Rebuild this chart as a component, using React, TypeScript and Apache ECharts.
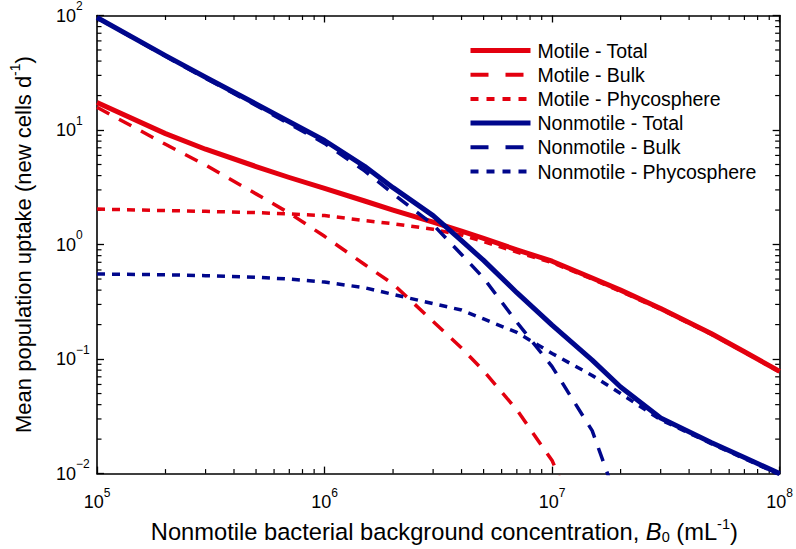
import React, { useEffect, useRef } from "react";
import * as echarts from "echarts";

// Nonmotile bacterial background concentration B0 (mL^-1)
const B0 = [1e5, 2e5, 3e5, 5e5, 7e5, 1e6, 1.5e6, 2e6, 3e6, 4e6, 5e6, 7e6, 1e7, 1.5e7, 2e7, 3e7, 5e7, 7e7, 1e8];

// Mean population uptake (new cells d^-1)
const motileTotal = [17.4, 9.3, 6.8, 4.8, 3.85, 3.1, 2.4, 2.0, 1.57, 1.31, 1.13, 0.9, 0.715, 0.51, 0.4, 0.277, 0.167, 0.116, 0.078];
const motileBulk = [15.8, 7.5, 4.94, 2.77, 1.88, 1.18, 0.67, 0.452, 0.213, 0.125, 0.079, 0.036, 0.013, 0.002, null, null, null, null, null];
const motilePhyco = [2.04, 1.98, 1.95, 1.9, 1.85, 1.79, 1.62, 1.52, 1.36, 1.21, 1.06, 0.86, 0.695, 0.5, 0.39, 0.272, 0.165, 0.115, 0.077];
const nonmotileTotal = [96, 44.6, 28.9, 16.9, 11.8, 8.1, 4.82, 3.14, 1.79, 1.08, 0.727, 0.38, 0.198, 0.098, 0.057, 0.0306, 0.0187, 0.0138, 0.01];
const nonmotileBulk = [95.4, 44.0, 28.3, 16.4, 11.3, 7.65, 4.4, 2.78, 1.49, 0.82, 0.51, 0.21, 0.086, 0.0237, 0.0048, null, null, null, null];
const nonmotilePhyco = [0.553, 0.545, 0.535, 0.519, 0.499, 0.47, 0.42, 0.367, 0.305, 0.268, 0.224, 0.171, 0.112, 0.072, 0.05, 0.0295, 0.0183, 0.0135, 0.0098];

const seriesNames = [
  "Motile - Total",
  "Motile - Bulk",
  "Motile - Phycosphere",
  "Nonmotile - Total",
  "Nonmotile - Bulk",
  "Nonmotile - Phycosphere",
];

// axis ranges and minor-tick decades
const X_MIN = 1e5;
const X_MAX = 1e8;
const Y_MIN = 1e-2;
const Y_MAX = 1e2;
const xDecades = [1e5, 1e6, 1e7];
const yDecades = [1e-2, 1e-1, 1, 10];
const minorMultipliers = [2, 3, 4, 5, 6, 7, 8, 9];

const RED = "#e3000f";
const BLUE = "#00078c";
const FONT = "'Liberation Sans', Arial, Helvetica, sans-serif";

const pair = (ys: (number | null)[]) => B0.map((x, i) => [x, ys[i]]);

const expLabel = (value: number) => {
  const e = Math.round(Math.log10(value));
  const s = e < 0 ? "\u2212" + String(-e) : String(e);
  return `{b|10}{s|${s}}`;
};

const tickRich = {
  b: { fontSize: 18, color: "#000", fontFamily: FONT },
  s: { fontSize: 12, color: "#000", fontFamily: FONT, padding: [0, 0, 19, 0] },
};

const App: React.FC = () => {
  const ref = useRef<HTMLDivElement>(null);

  useEffect(() => {
    if (!ref.current) return;
    const chart = echarts.init(ref.current, undefined, { renderer: "svg" });

    const xMinor = xDecades.flatMap((d) => minorMultipliers.map((m) => m * d));
    const yMinor = yDecades.flatMap((d) => minorMultipliers.map((m) => m * d));

    const lineSeries = [
      { name: seriesNames[0], data: pair(motileTotal), color: RED, width: 5, type: "solid" as any },
      { name: seriesNames[1], data: pair(motileBulk), color: RED, width: 3.5, type: [14, 11] },
      { name: seriesNames[2], data: pair(motilePhyco), color: RED, width: 3.5, type: [8, 7] },
      { name: seriesNames[3], data: pair(nonmotileTotal), color: BLUE, width: 5, type: "solid" as any },
      { name: seriesNames[4], data: pair(nonmotileBulk), color: BLUE, width: 3.5, type: [14, 11] },
      { name: seriesNames[5], data: pair(nonmotilePhyco), color: BLUE, width: 3.5, type: [8, 7] },
    ];

    const legendTypes: any[] = ["solid", [18, 17], [8, 8], "solid", [18, 17], [8, 8]];
    const legendWidths = [5, 4, 4, 5, 4, 4];

    const axisCommon = {
      axisLine: { show: true, lineStyle: { color: "#000", width: 1.6 } },
      axisTick: { show: true, inside: true, length: 7, lineStyle: { color: "#000", width: 1.3 } },
      splitLine: { show: false },
      minorTick: { show: false },
    };

    chart.setOption({
      animation: false,
      backgroundColor: "#fff",
      grid: { left: 88, right: 16, top: 15, bottom: 68, containLabel: false },
      legend: {
        orient: "vertical",
        left: 468,
        top: 40.5,
        padding: 0,
        itemWidth: 60,
        itemHeight: 20,
        itemGap: 4.2,
        selectedMode: false,
        textStyle: { fontSize: 19.5, color: "#000", fontFamily: FONT, lineHeight: 20, padding: [0, 0, 0, 2] },
        data: seriesNames.map((n, i) => ({
          name: n,
          itemStyle: { opacity: 0 },
          lineStyle: {
            color: i < 3 ? RED : BLUE,
            width: legendWidths[i],
            type: legendTypes[i],
            opacity: 1,
          },
        })),
      },
      xAxis: [
        {
          type: "log",
          logBase: 10,
          min: X_MIN,
          max: X_MAX,
          splitNumber: 3,
          position: "bottom",
          ...axisCommon,
          axisLabel: {
            show: true,
            margin: 13,
            formatter: expLabel,
            rich: tickRich,
            showMinLabel: true,
            showMaxLabel: true,
          },
          name:
            "{t|Nonmotile bacterial background concentration, }{i|B}{sub|0}{t| (mL}{sup|-1}{t|)}",
          nameLocation: "middle",
          nameGap: 38,
          nameTextStyle: {
            color: "#000",
            fontFamily: FONT,
            fontSize: 23.7,
            padding: [0, 0, 0, 12],
            rich: {
              t: { fontSize: 23.7, color: "#000", fontFamily: FONT },
              i: { fontSize: 23.7, color: "#000", fontFamily: FONT, fontStyle: "italic" },
              sub: { fontSize: 14.5, color: "#000", fontFamily: FONT, padding: [10, 0, 0, 0] },
              sup: { fontSize: 14.5, color: "#000", fontFamily: FONT, padding: [0, 0, 16, 0] },
            },
          },
        },
        {
          type: "log",
          logBase: 10,
          min: X_MIN,
          max: X_MAX,
          splitNumber: 3,
          position: "top",
          ...axisCommon,
          axisLabel: { show: false },
        },
      ],
      yAxis: [
        {
          type: "log",
          logBase: 10,
          min: Y_MIN,
          max: Y_MAX,
          splitNumber: 4,
          position: "left",
          ...axisCommon,
          axisLabel: {
            show: true,
            align: "left",
            margin: 41,
            formatter: expLabel,
            rich: tickRich,
            showMinLabel: true,
            showMaxLabel: true,
          },
          name: "{t|Mean population uptake (new cells d}{sup|-1}{t|)}",
          nameLocation: "middle",
          nameGap: 59,
          nameRotate: 90,
          nameTextStyle: {
            color: "#000",
            fontFamily: FONT,
            fontSize: 22,
            rich: {
              t: { fontSize: 22, color: "#000", fontFamily: FONT },
              sup: { fontSize: 14, color: "#000", fontFamily: FONT, padding: [0, 0, 16, 0] },
            },
          },
        },
        {
          type: "log",
          logBase: 10,
          min: Y_MIN,
          max: Y_MAX,
          splitNumber: 4,
          position: "right",
          ...axisCommon,
          axisLabel: { show: false },
        },
      ],
      series: [
        ...lineSeries.map((s) => ({
          type: "line",
          name: s.name,
          data: s.data,
          xAxisIndex: 0,
          yAxisIndex: 0,
          symbol: "none",
          showSymbol: false,
          clip: true,
          connectNulls: false,
          color: s.color,
          lineStyle: { color: s.color, width: s.width, type: s.type, cap: "butt", join: "round" },
          emphasis: { disabled: true },
        })),
        {
          type: "custom",
          name: "xMinor",
          coordinateSystem: "cartesian2d",
          xAxisIndex: 0,
          yAxisIndex: 0,
          silent: true,
          data: xMinor.map((v) => [v, 1]),
          renderItem: (params: any, api: any) => {
            const x = api.coord([api.value(0), 1])[0];
            const cs = params.coordSys;
            const yb = cs.y + cs.height;
            return {
              type: "group",
              children: [
                { type: "line", shape: { x1: x, y1: yb, x2: x, y2: yb - 4.5 }, style: { stroke: "#000", lineWidth: 1.2 } },
                { type: "line", shape: { x1: x, y1: cs.y, x2: x, y2: cs.y + 4.5 }, style: { stroke: "#000", lineWidth: 1.2 } },
              ],
            };
          },
        },
        {
          type: "custom",
          name: "yMinor",
          coordinateSystem: "cartesian2d",
          xAxisIndex: 0,
          yAxisIndex: 0,
          silent: true,
          data: yMinor.map((v) => [X_MIN, v]),
          renderItem: (params: any, api: any) => {
            const y = api.coord([X_MIN, api.value(1)])[1];
            const cs = params.coordSys;
            const xr = cs.x + cs.width;
            return {
              type: "group",
              children: [
                { type: "line", shape: { x1: cs.x, y1: y, x2: cs.x + 4.5, y2: y }, style: { stroke: "#000", lineWidth: 1.2 } },
                { type: "line", shape: { x1: xr, y1: y, x2: xr - 4.5, y2: y }, style: { stroke: "#000", lineWidth: 1.2 } },
              ],
            };
          },
        },
      ],
    });

    return () => {
      chart.dispose();
    };
  }, []);

  return (
    <div
      ref={ref}
      style={{ position: "fixed", left: 0, top: 0, width: 796, height: 549, background: "#fff" }}
    />
  );
};

export default App;
